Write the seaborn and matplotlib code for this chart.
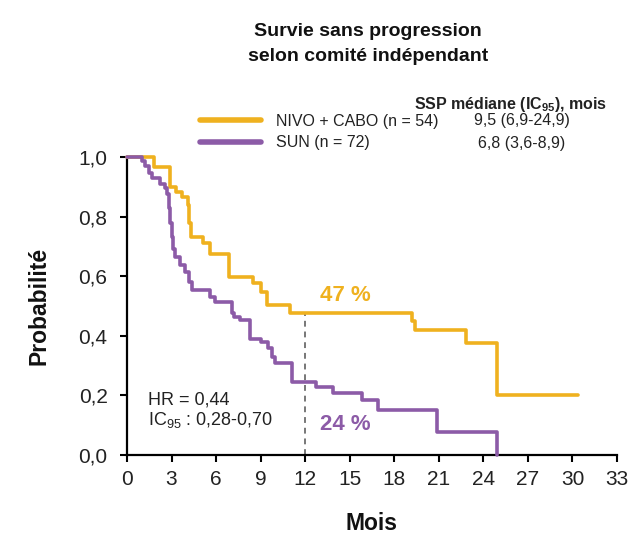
import matplotlib
matplotlib.use("Agg")
import matplotlib.pyplot as plt
import seaborn as sns
import pandas as pd

# ---- data ----
nivo_t = [0, 1.8, 2.9, 3.3, 3.7, 4.1, 4.2, 4.3, 5.1, 5.6, 6.9, 8.5, 9.0, 9.4, 11.0, 19.2, 19.4, 22.8, 24.9, 30.4]
nivo_s = [1.0, 0.968, 0.898, 0.884, 0.867, 0.84, 0.78, 0.731, 0.712, 0.675, 0.598, 0.576, 0.548, 0.503, 0.475,
          0.45, 0.42, 0.375, 0.20, 0.20]
sun_t = [0, 1.0, 1.2, 1.45, 1.65, 2.2, 2.55, 2.7, 2.8, 2.9, 3.0, 3.1, 3.25, 3.55, 3.9, 4.15, 4.35, 5.6, 5.9,
         7.05, 7.2, 7.6, 8.3, 9.05, 9.5, 9.75, 10.0, 11.1, 12.7, 13.9, 15.8, 16.9, 20.85, 24.9]
sun_s = [1.0, 0.987, 0.97, 0.945, 0.93, 0.91, 0.895, 0.875, 0.83, 0.78, 0.73, 0.69, 0.665, 0.638, 0.615, 0.58,
         0.554, 0.531, 0.514, 0.475, 0.464, 0.453, 0.39, 0.38, 0.358, 0.33, 0.308, 0.245, 0.228, 0.208, 0.185,
         0.151, 0.078, 0.0]
series_labels = ["NIVO + CABO (n = 54)", "SUN (n = 72)"]
medians = ["9,5 (6,9-24,9)", "6,8 (3,6-8,9)"]
x_ticks = list(range(0, 34, 3))
y_ticks = [0.0, 0.2, 0.4, 0.6, 0.8, 1.0]
landmark = 12
landmark_nivo = 0.475
pct_labels = ["47 %", "24 %"]
pct_pos = [(14.7, 0.534), (14.7, 0.102)]

YEL = "#EFB11F"
PUR = "#8C5BA7"

sns.set_theme(style="ticks")
plt.rcParams["font.family"] = ["Liberation Sans", "DejaVu Sans"]
plt.rcParams["mathtext.fontset"] = "custom"
plt.rcParams["mathtext.rm"] = "Liberation Sans"
plt.rcParams["mathtext.it"] = "Liberation Sans:italic"
plt.rcParams["mathtext.bf"] = "Liberation Sans:bold"

df = pd.concat([
    pd.DataFrame({"t": nivo_t, "s": nivo_s, "arm": series_labels[0]}),
    pd.DataFrame({"t": sun_t, "s": sun_s, "arm": series_labels[1]}),
], ignore_index=True)

fig = plt.figure(figsize=(6.43, 5.44), dpi=100)
ax = fig.add_axes([127 / 643, 1 - 455 / 544, (617 - 127) / 643, (455 - 157) / 544])

sns.lineplot(data=df, x="t", y="s", hue="arm", palette=[YEL, PUR], estimator=None, sort=False,
             drawstyle="steps-post", linewidth=2.6, ax=ax, clip_on=False, zorder=3)

ax.plot([landmark, landmark], [0, landmark_nivo], color="#777777", linestyle=(0, (3, 2.5)),
        linewidth=1.4, zorder=2)

ax.set_xlim(0, 33)
ax.set_ylim(0, 1.0)
ax.set_xticks(x_ticks)
ax.set_xticklabels([str(v) for v in x_ticks])
ax.set_yticks(y_ticks)
ax.set_yticklabels([f"{v:.1f}".replace(".", ",") for v in y_ticks])
ax.tick_params(axis="both", labelsize=15, length=5, width=1.5, color="black", labelcolor="#222222")
ax.tick_params(axis="x", pad=6)
ax.tick_params(axis="y", pad=9)
for sp in ["top", "right"]:
    ax.spines[sp].set_visible(False)
for sp in ["left", "bottom"]:
    ax.spines[sp].set_linewidth(1.6)
    ax.spines[sp].set_color("black")

ax.set_xlabel("Mois", fontsize=16.5, fontweight="bold", labelpad=16, color="#111111")
ax.set_ylabel("Probabilité", fontsize=16.5, fontweight="bold", labelpad=20, color="#111111")

ax.text(*pct_pos[0], pct_labels[0], color=YEL, fontsize=16, fontweight="bold", ha="center", va="center")
ax.text(*pct_pos[1], pct_labels[1], color=PUR, fontsize=16, fontweight="bold", ha="center", va="center")

fig.text(148 / 643, 1 - 400 / 544, "HR = 0,44", fontsize=13, color="#222222", ha="left", va="center")
fig.text(148 / 643, 1 - 420 / 544, r"IC$_{95}$ : 0,28-0,70", fontsize=13, color="#222222",
         ha="left", va="center")

# legend
leg = ax.legend(loc="center left", bbox_to_anchor=(200 / 643, 1 - 132 / 544), bbox_transform=fig.transFigure,
                frameon=False, fontsize=11.5, handlelength=3.8, handletextpad=0.95, labelspacing=0.4,
                borderpad=0, borderaxespad=0, title=None)
for line in leg.get_lines():
    line.set_linewidth(4)
for t in leg.get_texts():
    t.set_color("#222222")

fig.text(511 / 643, 1 - 104 / 544, r"SSP médiane (IC$_\mathbf{95}$), mois", fontsize=11.5, fontweight="bold",
         color="#222222", ha="center", va="center")
fig.text(522 / 643, 1 - 121 / 544, medians[0], fontsize=11.5, color="#222222", ha="center", va="center")
fig.text(522 / 643, 1 - 143 / 544, medians[1], fontsize=11.5, color="#222222", ha="center", va="center")

fig.text(368 / 643, 1 - 44 / 544, "Survie sans progression\nselon comité indépendant", fontsize=14,
         fontweight="bold", color="#111111", ha="center", va="center", linespacing=1.65)

fig.savefig("out.png", dpi=100, facecolor="white")
